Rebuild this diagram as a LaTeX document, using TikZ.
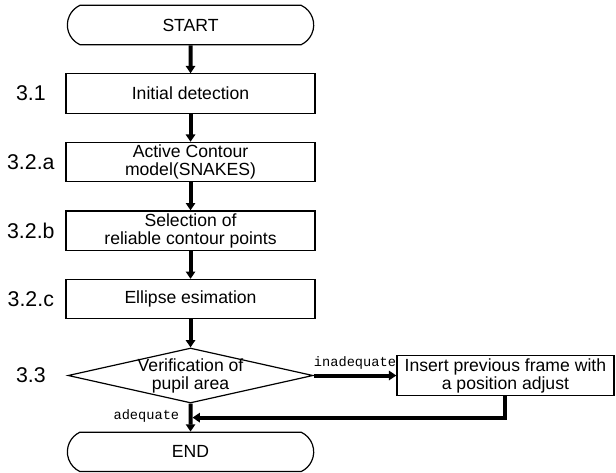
\documentclass[tikz,border=0pt]{standalone}
\usepackage{fontspec}
\setmainfont{Liberation Sans}
\newfontfamily\flagfont{Liberation Mono}
\usetikzlibrary{arrows.meta,shapes.geometric,shapes.misc,positioning}
\tikzset{
  steplabel/.style={inner sep=0pt, minimum width=37pt, font=\fontsize{16}{18}\selectfont},
  process/.style  ={rectangle, draw, line width=.9pt, minimum width=186.75pt,
    minimum height=29.5pt, inner sep=1pt, align=center,
    font=\fontsize{13.2}{13.5}\selectfont},
  terminal/.style ={process, rounded rectangle, rounded rectangle arc length=130},
  decision/.style ={process, diamond, aspect=4.45, inner xsep=-6pt, inner ysep=-1pt,
    minimum width=183.75pt, minimum height=41.25pt},
  sidebox/.style  ={process, minimum width=162.75pt},
  flag/.style     ={inner sep=1pt, font=\flagfont\fontsize{10.25}{12}\selectfont}}
\begin{document}
\begin{tikzpicture}[node distance=21pt]
\node[terminal] (start) {START};
\node[process, below=of start]    (detect) {Initial detection};
\node[process, below=of detect]   (snakes) {Active Contour\\model(SNAKES)};
\node[process, below=of snakes]   (select) {Selection of\\reliable contour points};
\node[process, below=of select]   (fit)    {Ellipse esimation};
\node[decision, below=of fit]     (verify) {Verification of\\pupil area};
\node[terminal, below=of verify]  (end)    {END};
\node[sidebox, right=61.5pt of verify.east -| start.east, anchor=west] (insert)
  {Insert previous frame with\\a position adjust};
% step numbers
\foreach \nd/\txt in {detect/3.1,snakes/3.2.a,select/3.2.b,fit/3.2.c,verify/3.3}
  \node[steplabel, left=8.25pt of \nd.center -| start.west] (lab-\nd) {\txt};
\useasboundingbox ([xshift=-142.9pt,yshift=18.75pt]start.center) rectangle ++(462pt,-352.5pt);
\path[line width=3pt,
  to arr/.style={-{Triangle[length=5.5pt,width=7pt]}, shorten >=+0pt}]
  [to arr]
  (start)  edge (detect)
  (detect) edge (snakes)
  (snakes) edge (select)
  (select) edge (fit)
  (fit)    edge (verify)
  (verify) edge node[flag, above=2pt] {inadequate} (insert)
  (verify) edge node[flag, left=6pt, pos=.45] {adequate}
    coordinate[pos=.5] (join) (end)
  (insert.south) edge[to path={|- (\tikztotarget)}, shorten >=+1.5pt] (join);
\end{tikzpicture}
\end{document}
